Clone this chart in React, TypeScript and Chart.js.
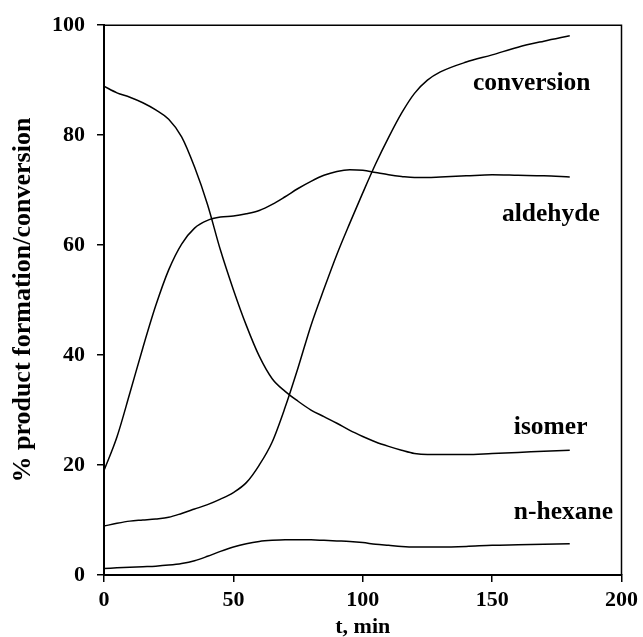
import React, { useEffect, useRef } from "react";
import { Chart, registerables } from "chart.js";
Chart.register(...registerables);

const times = [0, 5, 10, 15, 20, 25, 30, 35, 40, 45, 50, 55, 60, 65, 70, 75, 80, 85, 90, 95, 100, 105, 110, 115, 120, 125, 130, 140, 150, 160, 170, 180];
const conversion = [8.9, 9.4, 9.8, 10.0, 10.2, 10.5, 11.2, 12.0, 12.8, 13.8, 15.0, 16.8, 20.0, 24.2, 30.5, 37.7, 45.4, 52.0, 58.3, 64.0, 69.5, 74.8, 79.6, 84.0, 87.6, 90.0, 91.5, 93.3, 94.6, 96.0, 97.1, 98.1];
const aldehyde = [19.0, 25.1, 33.1, 41.3, 49.0, 55.5, 60.2, 63.1, 64.5, 65.1, 65.3, 65.7, 66.3, 67.4, 68.8, 70.3, 71.6, 72.7, 73.4, 73.7, 73.6, 73.2, 72.8, 72.5, 72.3, 72.3, 72.4, 72.6, 72.8, 72.7, 72.6, 72.4];
const isomer = [88.9, 87.7, 86.9, 85.9, 84.6, 82.9, 79.7, 74.2, 67.4, 59.1, 51.9, 45.4, 39.8, 35.7, 33.4, 31.6, 30.0, 28.8, 27.6, 26.3, 25.2, 24.2, 23.4, 22.7, 22.1, 21.9, 21.9, 21.9, 22.1, 22.3, 22.5, 22.7];
const nHexane = [1.2, 1.3, 1.4, 1.5, 1.6, 1.8, 2.1, 2.6, 3.4, 4.3, 5.1, 5.7, 6.1, 6.3, 6.4, 6.4, 6.4, 6.3, 6.2, 6.1, 5.9, 5.6, 5.4, 5.2, 5.1, 5.1, 5.1, 5.2, 5.4, 5.5, 5.6, 5.7];
const seriesNames = ["conversion", "aldehyde", "isomer", "n-hexane"];
const xTicks = [0, 50, 100, 150, 200];
const yTicks = [0, 20, 40, 60, 80, 100];
const xTitle = "t, min";
const yTitle = "% product formation/conversion";

const FONT = "'Liberation Serif', 'Times New Roman', Times, serif";

export default function App() {
  const ref = useRef<HTMLCanvasElement>(null);
  useEffect(() => {
    const canvas = ref.current;
    if (!canvas) return;
    const seriesValues = [conversion, aldehyde, isomer, nHexane];
    // label anchor (left, baseline) in data units
    const labelAnchors = [
      { x: 142.6, y: 88.2 },
      { x: 153.8, y: 64.4 },
      { x: 158.4, y: 25.7 },
      { x: 158.4, y: 10.1 },
    ];
    const labelsPlugin = {
      id: "seriesLabels",
      afterDatasetsDraw(chart: any) {
        const { ctx, chartArea, scales } = chart;
        ctx.save();
        ctx.strokeStyle = "#000";
        ctx.lineWidth = 1.5;
        ctx.beginPath();
        ctx.moveTo(chartArea.left, chartArea.top);
        ctx.lineTo(chartArea.right, chartArea.top);
        ctx.lineTo(chartArea.right, chartArea.bottom);
        ctx.stroke();
        ctx.fillStyle = "#000";
        ctx.font = `bold 25.5px ${FONT}`;
        ctx.textAlign = "left";
        ctx.textBaseline = "alphabetic";
        seriesNames.forEach((name, i) => {
          const a = labelAnchors[i];
          ctx.fillText(name, scales.x.getPixelForValue(a.x), scales.y.getPixelForValue(a.y));
        });
        ctx.restore();
      },
    };
    const chart = new Chart(canvas, {
      type: "line",
      data: {
        datasets: seriesValues.map((vals, i) => ({
          label: seriesNames[i],
          data: times.map((t, j) => ({ x: t, y: vals[j] })),
          borderColor: "#000",
          borderWidth: 1.5,
          pointRadius: 0,
          fill: false,
          cubicInterpolationMode: "monotone" as const,
        })),
      },
      options: {
        responsive: false,
        animation: false,
        events: [],
        layout: { padding: { left: 0, right: 20, top: 22, bottom: 0 } },
        plugins: { legend: { display: false }, tooltip: { enabled: false } },
        scales: {
          x: {
            type: "linear",
            position: "bottom",
            min: 0,
            max: 200,
            afterBuildTicks: (s: any) => {
              s.ticks = xTicks.map((v) => ({ value: v }));
            },
            afterFit: (s: any) => {
              s.height = 62;
            },
            grid: { display: true, drawOnChartArea: false, drawTicks: true, tickLength: 7, color: "#000", lineWidth: 1.5 },
            border: { display: true, color: "#000", width: 2 },
            ticks: { color: "#000", padding: 5, maxRotation: 0, autoSkip: false, font: { family: FONT, size: 22, weight: "bold" } },
            title: { display: true, text: xTitle, color: "#000", padding: { top: 0, bottom: 0 }, font: { family: FONT, size: 22, weight: "bold", lineHeight: 0.86 } },
          },
          y: {
            type: "linear",
            position: "left",
            min: 0,
            max: 100,
            afterBuildTicks: (s: any) => {
              s.ticks = yTicks.map((v) => ({ value: v }));
            },
            afterFit: (s: any) => {
              s.width = 104;
            },
            grid: { display: true, drawOnChartArea: false, drawTicks: true, tickLength: 7, color: "#000", lineWidth: 1.5 },
            border: { display: true, color: "#000", width: 2 },
            ticks: { color: "#000", padding: 12, autoSkip: false, font: { family: FONT, size: 22, weight: "bold" } },
            title: { display: true, text: yTitle, color: "#000", padding: { top: 7.4, bottom: 0 }, font: { family: FONT, size: 26, weight: "bold", lineHeight: 1.2 } },
          },
        },
      },
      plugins: [labelsPlugin],
    });
    return () => chart.destroy();
  }, []);
  return (
    <div style={{ position: "fixed", left: 0, top: 0, width: 643, height: 637, background: "#fff" }}>
      <canvas ref={ref} width={643} height={637} style={{ display: "block" }} />
    </div>
  );
}
